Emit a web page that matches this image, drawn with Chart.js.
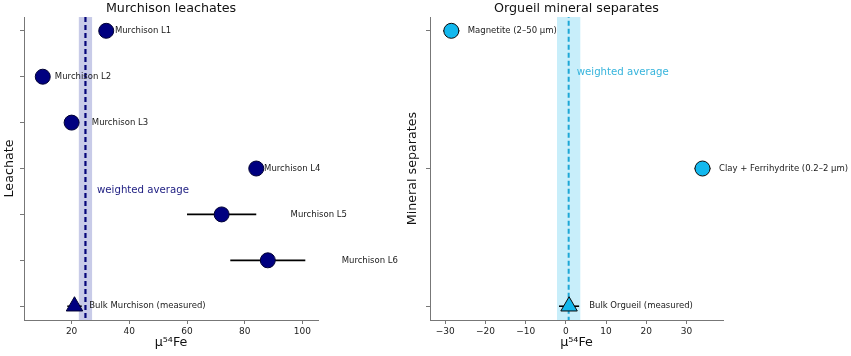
<!DOCTYPE html>
<html><head><meta charset="utf-8">
<script src="https://cdn.jsdelivr.net/npm/chart.js@4.4.1/dist/chart.umd.min.js"></script>
<style>
body{margin:0;background:#fff}
#wrap{position:relative;width:851px;height:356px;background:#fff}
#wrap canvas{position:absolute;top:0}
</style>
</head><body>
<div id="wrap">
<canvas id="left" width="400" height="356" style="left:0"></canvas>
<canvas id="right" width="451" height="356" style="left:400px"></canvas>
</div>
<script>
// ---------- Data: Murchison leachates ----------
const leachNames = ['Murchison L1','Murchison L2','Murchison L3','Murchison L4','Murchison L5','Murchison L6'];
const leachValues = [32, 10, 20, 84, 72, 88];
const leachErrors = [2, 2, 2, 2, 12, 13];
const leachLevels = [6, 5, 4, 3, 2, 1];
const leachLabelX = [35, 14.2, 27, 86.7, 95.9, 113.6];
const bulkMurchName = 'Bulk Murchison (measured)';
const bulkMurchValue = [21];
const bulkMurchError = [2.5];
const bulkMurchLevel = [0];
const bulkMurchLabelX = [26.1];
const murchAvg = 24.8;
const murchAvgErr = 2.3;
const murchAvgText = 'weighted average';
const murchAvgTextPos = [28.8, 2.52];
const xTicksLeft = [20, 40, 60, 80, 100];
const yTicksLeft = [0, 1, 2, 3, 4, 5, 6];
const xRangeLeft = [3.5, 105.4];
const yRangeLeft = [-0.3, 6.3];

// ---------- Data: Orgueil mineral separates ----------
const sepNames = ['Magnetite (2\u201350 \u00b5m)', 'Clay + Ferrihydrite (0.2\u20132 \u00b5m)'];
const sepValues = [-28.5, 34];
const sepErrors = [2, 2];
const sepLevels = [2, 1];
const sepLabelX = [-24.4, 38.1];
const bulkOrgName = 'Bulk Orgueil (measured)';
const bulkOrgValue = [0.8];
const bulkOrgError = [2.5];
const bulkOrgLevel = [0];
const bulkOrgLabelX = [5.8];
const orgAvg = 0.7;
const orgAvgErr = 2.9;
const orgAvgText = 'weighted average';
const orgAvgTextPos = [2.7, 1.70];
const xTicksRight = [-30, -20, -10, 0, 10, 20, 30];
const yTicksRight = [0, 1, 2];
const xRangeRight = [-33.8, 39.1];
const yRangeRight = [-0.1, 2.1];

const FONT = "'DejaVu Sans', sans-serif";

function pts(xs, ys){ return xs.map((v,i)=>({x:v, y:ys[i]})); }

// plugin: band + error bars (behind), labels (after)
function makeDecor(cfg){
  return {
    id:'decor',
    beforeDatasetsDraw(chart){
      const {ctx, chartArea:a, scales:{x,y}} = chart;
      ctx.save();
      const x0 = x.getPixelForValue(cfg.avg - cfg.avgErr);
      const x1 = x.getPixelForValue(cfg.avg + cfg.avgErr);
      ctx.fillStyle = cfg.bandColor;
      ctx.fillRect(x0, a.top, x1 - x0, a.bottom - a.top);
      ctx.strokeStyle = '#000';
      ctx.lineWidth = 1.6;
      cfg.err.forEach(g=>{
        g.v.forEach((v,i)=>{
          const py = y.getPixelForValue(g.lev[i]);
          ctx.beginPath();
          ctx.moveTo(x.getPixelForValue(v - g.e[i]), py);
          ctx.lineTo(x.getPixelForValue(v + g.e[i]), py);
          ctx.stroke();
        });
      });
      ctx.restore();
    },
    afterDraw(chart){
      const {ctx, scales:{x,y}} = chart;
      ctx.save();
      ctx.textBaseline = 'middle';
      ctx.textAlign = 'left';
      ctx.font = "8.5px " + FONT;
      ctx.fillStyle = '#1a1a1a';
      cfg.labels.forEach(g=>{
        g.names.forEach((n,i)=>{
          ctx.fillText(n, x.getPixelForValue(g.lx[i]), y.getPixelForValue(g.lev[i]));
        });
      });
      ctx.font = "10.2px " + FONT;
      ctx.fillStyle = cfg.avgTextColor;
      ctx.fillText(cfg.avgText, x.getPixelForValue(cfg.avgTextPos[0]), y.getPixelForValue(cfg.avgTextPos[1]));
      ctx.restore();
    }
  };
}

function makeOptions(o){
  return {
    responsive:false, animation:false, devicePixelRatio:1,
    layout:{padding:{left:0, right:o.padRight, top:0, bottom:0}},
    plugins:{
      legend:{display:false}, tooltip:{enabled:false},
      title:{display:true, text:o.title, fullSize:false, color:'#111',
        font:{family:FONT, size:12.7, weight:'normal', lineHeight:1.2},
        padding:{top:0.6, bottom:1.2}}
    },
    scales:{
      x:{type:'linear', min:o.xr[0], max:o.xr[1],
        afterBuildTicks:s=>{ s.ticks = o.xt.map(v=>({value:v})); },
        afterFit:s=>{ s.height = 36; },
        grid:{display:true, drawOnChartArea:false, drawTicks:true, tickLength:4, color:'#777', lineWidth:1},
        border:{display:true, color:'#777', width:1},
        ticks:{font:{family:FONT, size:9}, color:'#222', padding:2, maxRotation:0, autoSkip:false,
          callback:v=> (v<0 ? '\u2212'+Math.abs(v) : String(v))},
        title:{display:true, text:'\u03bc\u2075\u2074Fe', color:'#111',
          font:{family:FONT, size:12.7, lineHeight:1.2}, padding:{top:0, bottom:5.4}}
      },
      y:{type:'linear', min:o.yr[0], max:o.yr[1],
        afterBuildTicks:s=>{ s.ticks = o.yt.map(v=>({value:v})); },
        afterFit:s=>{ s.width = o.yw; },
        grid:{display:true, drawOnChartArea:false, drawTicks:true, tickLength:4, color:'#777', lineWidth:1},
        border:{display:true, color:'#777', width:1},
        ticks:{display:false},
        title:{display:true, text:o.ytitle, color:'#111',
          font:{family:FONT, size:12.7, lineHeight:1.2}, padding:{top:o.ytpad, bottom:0}}
      }
    }
  };
}

// ---------- Left chart ----------
new Chart(document.getElementById('left'), {
  type:'scatter',
  data:{datasets:[
    {data:pts(leachValues, leachLevels), pointStyle:'circle', pointRadius:7.5,
      backgroundColor:'#000080', borderColor:'#000033', borderWidth:1},
    {data:pts(bulkMurchValue, bulkMurchLevel), pointStyle:'triangle', pointRadius:9.5,
      backgroundColor:'#000080', borderColor:'#000033', borderWidth:1},
    {type:'line', data:[{x:murchAvg, y:yRangeLeft[0]-1},{x:murchAvg, y:yRangeLeft[1]+1}],
      borderColor:'#05057a', borderWidth:2.2, borderDash:[5,3], pointRadius:0, fill:false}
  ]},
  options:makeOptions({padRight:82, title:'Murchison leachates', xr:xRangeLeft, yr:yRangeLeft,
    xt:xTicksLeft, yt:yTicksLeft, yw:24, ytitle:'Leachate', ytpad:2.4}),
  plugins:[makeDecor({avg:murchAvg, avgErr:murchAvgErr, bandColor:'#c8cbe8',
    err:[{v:leachValues, e:leachErrors, lev:leachLevels},{v:bulkMurchValue, e:bulkMurchError, lev:bulkMurchLevel}],
    labels:[{names:leachNames, lx:leachLabelX, lev:leachLevels},{names:[bulkMurchName], lx:bulkMurchLabelX, lev:bulkMurchLevel}],
    avgText:murchAvgText, avgTextPos:murchAvgTextPos, avgTextColor:'#1c1c80'})]
});

// ---------- Right chart ----------
new Chart(document.getElementById('right'), {
  type:'scatter',
  data:{datasets:[
    {data:pts(sepValues, sepLevels), pointStyle:'circle', pointRadius:7.5,
      backgroundColor:'#12b8ee', borderColor:'#0a0a0a', borderWidth:1},
    {data:pts(bulkOrgValue, bulkOrgLevel), pointStyle:'triangle', pointRadius:9.5,
      backgroundColor:'#12b8ee', borderColor:'#0a0a0a', borderWidth:1},
    {type:'line', data:[{x:orgAvg, y:yRangeRight[0]-1},{x:orgAvg, y:yRangeRight[1]+1}],
      borderColor:'#1ea7d6', borderWidth:2, borderDash:[5,3], pointRadius:0, fill:false}
  ]},
  options:makeOptions({padRight:128, title:'Orgueil mineral separates', xr:xRangeRight, yr:yRangeRight,
    xt:xTicksRight, yt:yTicksRight, yw:30, ytitle:'Mineral separates', ytpad:5.4}),
  plugins:[makeDecor({avg:orgAvg, avgErr:orgAvgErr, bandColor:'#c8eefa',
    err:[{v:sepValues, e:sepErrors, lev:sepLevels},{v:bulkOrgValue, e:bulkOrgError, lev:bulkOrgLevel}],
    labels:[{names:sepNames, lx:sepLabelX, lev:sepLevels},{names:[bulkOrgName], lx:bulkOrgLabelX, lev:bulkOrgLevel}],
    avgText:orgAvgText, avgTextPos:orgAvgTextPos, avgTextColor:'#36b4dc'})]
});
</script>
</body></html>
